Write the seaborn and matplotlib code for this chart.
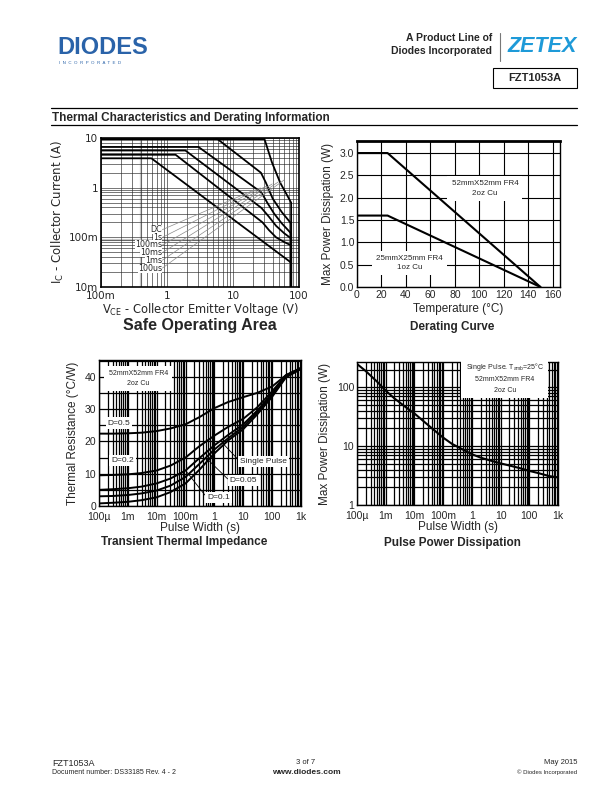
import matplotlib
matplotlib.use("Agg")
import matplotlib.pyplot as plt
import numpy as np
import pandas as pd
import seaborn as sns
from matplotlib.lines import Line2D
from matplotlib.patches import Rectangle
from matplotlib.ticker import LogLocator, MultipleLocator, NullFormatter

# ---- Safe operating area (Vce in V, Ic in A) ----
soa_labels = ["DC", "1s", "100ms", "10ms", "1ms", "100us"]
soa_vce = {
    "DC": [0.1, 0.58, 76, 76],
    "1s": [0.1, 1.35, 28, 35, 45, 60, 76, 76],
    "100ms": [0.1, 1.9, 27, 35, 45, 60, 76, 76],
    "10ms": [0.1, 3.0, 27, 33, 42, 55, 76, 76],
    "1ms": [0.1, 4.0, 26.5, 31.5, 40, 55, 76, 76],
    "100us": [0.1, 30, 39, 52, 76, 76],
}
soa_ic = {
    "DC": [3.9, 3.9, 0.031, 0.01],
    "1s": [4.6, 4.6, 0.2, 0.14, 0.1, 0.08, 0.069, 0.01],
    "100ms": [5.6, 5.6, 0.39, 0.26, 0.17, 0.12, 0.095, 0.01],
    "10ms": [6.6, 6.6, 0.8, 0.5, 0.3, 0.19, 0.12, 0.01],
    "1ms": [14, 14, 2.0, 1.26, 0.6, 0.32, 0.19, 0.01],
    "100us": [9.5, 9.5, 3.2, 1.25, 0.5, 0.01],
}
# where each label's leader line meets the curves
soa_leader_v = [21.0, 25.9, 31.9, 39.3, 48.4, 59.6]
soa_leader_i = [0.90, 0.99, 1.08, 1.19, 1.30, 1.43]

# ---- Derating curve ----
derate_temp = [0, 25, 150]
derate_52mm = [3.0, 3.0, 0.0]
derate_25mm = [1.6, 1.6, 0.0]

# ---- Transient thermal impedance ----
pulse_width = [1e-4, 3e-4, 1e-3, 3e-3, 1e-2, 3e-2, 0.1, 0.3, 1, 3, 10, 30, 100, 300, 1000]
zth_d05 = [22.4, 22.4, 22.5, 22.7, 23.2, 24.0, 25.3, 27.5, 30.3, 32.2, 33.7, 35.0, 37.0, 40.5, 42.6]
zth_d02 = [9.5, 9.6, 9.8, 10.2, 11.0, 12.5, 15.0, 18.5, 21.8, 24.5, 27.0, 30.5, 35.5, 40.5, 42.8]
zth_d01 = [5.0, 5.2, 5.5, 6.0, 7.0, 8.5, 11.0, 14.8, 18.8, 22.0, 25.3, 29.5, 34.8, 40.3, 42.7]
zth_d005 = [3.0, 3.1, 3.4, 3.9, 4.8, 6.3, 9.0, 13.0, 17.5, 21.0, 24.5, 29.0, 34.3, 40.0, 42.6]
zth_single = [0.8, 1.0, 1.3, 1.8, 2.7, 4.3, 7.0, 11.2, 16.3, 20.3, 23.8, 28.3, 33.8, 39.8, 42.4]

# ---- Pulse power dissipation ----
ppd_width = [1e-4, 2e-4, 5e-4, 1e-3, 2e-3, 5e-3, 1e-2, 2e-2, 5e-2, 0.1, 0.2, 0.5,
             1, 2, 5, 10, 20, 50, 100, 200, 500, 1000]
ppd_power = [250, 190, 125, 88, 65, 46, 36, 27, 18.5, 14, 11, 8.7,
             7.3, 6.4, 5.6, 5.1, 4.7, 4.2, 3.8, 3.5, 3.1, 2.95]

time_ticks = [1e-4, 1e-3, 1e-2, 1e-1, 1, 10, 100, 1000]
time_labels = ["100µ", "1m", "10m", "100m", "1", "10", "100", "1k"]

W, H = 612, 792


def rect(left, top, right, bottom):
    return [left / W, 1 - bottom / H, (right - left) / W, (bottom - top) / H]


def fx(px):
    return px / W


def fy(py):
    return 1 - py / H


def draw_line(ax, x, y, lw=1.4):
    sns.lineplot(x=x, y=y, ax=ax, color="black", lw=lw, sort=False,
                 estimator=None, legend=False)


def style_spines(ax, lw=1.0):
    for s in ax.spines.values():
        s.set_color("black")
        s.set_linewidth(lw)
        s.set_visible(True)


sns.set_theme(style="white")
plt.rcParams["font.family"] = ["Liberation Sans", "DejaVu Sans"]

fig = plt.figure(figsize=(W / 100, H / 100), dpi=100)

# ---- header ----
fig.text(fx(57), fy(48), "DIODES", color="#2a63a9", fontsize=17, fontweight="heavy",
         va="center", ha="left")
fig.text(fx(59), fy(63), "I  N  C  O  R  P  O  R  A  T  E  D", color="#2a63a9",
         fontsize=3.2, va="center", ha="left")
fig.text(fx(492), fy(38), "A Product Line of", fontsize=7.5, fontweight="bold",
         ha="right", va="center")
fig.text(fx(492), fy(51), "Diodes Incorporated", fontsize=7.5, fontweight="bold",
         ha="right", va="center")
fig.add_artist(Line2D([fx(500), fx(500)], [fy(33), fy(61)], color="#777777", lw=0.8))
fig.text(fx(507), fy(46), "ZETEX", color="#1e9ad8", fontsize=15.5, fontweight="heavy",
         style="italic", ha="left", va="center")
fig.add_artist(Rectangle((fx(493), fy(88)), fx(84), 20 / H, fill=False,
                         edgecolor="black", lw=0.8))
fig.text(fx(535), fy(78), "FZT1053A", fontsize=8, fontweight="bold", ha="center",
         va="center")

fig.add_artist(Line2D([fx(51), fx(577)], [fy(108), fy(108)], color="black", lw=0.9))
fig.add_artist(Line2D([fx(51), fx(577)], [fy(125), fy(125)], color="black", lw=0.9))
fig.text(fx(52), fy(117.5), "Thermal Characteristics and Derating Information",
         fontsize=8.5, fontweight="bold", ha="left", va="center")

# ---- footer ----
fig.text(fx(52), fy(763), "FZT1053A", fontsize=6.5, ha="left", va="center")
fig.text(fx(52), fy(773), "Document number: DS33185 Rev. 4 - 2", fontsize=5,
         ha="left", va="center")
fig.text(fx(306), fy(763), "3 of 7", fontsize=5.5, ha="center", va="center")
fig.text(fx(306), fy(772), "www.diodes.com", fontsize=6, fontweight="bold",
         ha="center", va="center")
fig.text(fx(577), fy(763), "May 2015", fontsize=5.5, ha="right", va="center")
fig.text(fx(577), fy(772), "© Diodes Incorporated", fontsize=4.3, ha="right",
         va="center")

# ---- Safe Operating Area ----
ax = fig.add_axes(rect(101, 138, 299, 287))
ax.set_xscale("log")
ax.set_yscale("log")
ax.axvline(0.4, color="#c8c8c8", lw=1.6, zorder=0.5)
ax.axhline(0.088, color="#c8c8c8", lw=1.6, zorder=0.5)
for name in soa_labels:
    draw_line(ax, soa_vce[name], soa_ic[name], lw=1.3)
ax.set_xlim(0.1, 100)
ax.set_ylim(0.01, 10)
ax.xaxis.set_minor_locator(LogLocator(base=10, subs=np.arange(2, 10)))
ax.yaxis.set_minor_locator(LogLocator(base=10, subs=np.arange(2, 10)))
ax.xaxis.set_minor_formatter(NullFormatter())
ax.yaxis.set_minor_formatter(NullFormatter())
ax.set_xticks([0.1, 1, 10, 100], ["100m", "1", "10", "100"])
ax.set_yticks([0.01, 0.1, 1, 10], ["10m", "100m", "1", "10"])
ax.grid(True, which="both", color="#2a2a2a", lw=0.45)
ax.tick_params(which="both", length=0, labelsize=7.5, pad=2)
ax.tick_params(axis="x", pad=3)
for lbl in ax.get_xticklabels() + ax.get_yticklabels():
    lbl.set_family("DejaVu Sans")
ax.set_xlabel(r"V$_\mathregular{CE}$ - Collector Emitter Voltage (V)", fontsize=8.3,
              family="DejaVu Sans", labelpad=0)
ax.set_ylabel(r"I$_\mathregular{C}$ - Collector Current (A)", fontsize=8.5,
              family="DejaVu Sans", labelpad=2)
label_y = [0.385, 0.333, 0.282, 0.231, 0.180, 0.127]
for name, ly, ev, ei in zip(soa_labels, label_y, soa_leader_v, soa_leader_i):
    ax.annotate(name, xy=(ev, ei), xycoords="data", xytext=(0.31, ly),
                textcoords="axes fraction", ha="right", va="center", fontsize=5.8,
                family="DejaVu Sans",
                bbox=dict(facecolor="white", edgecolor="none", pad=0),
                arrowprops=dict(arrowstyle="-", color="#8a8a8a", lw=0.5,
                                shrinkA=0, shrinkB=0, relpos=(1, 0.5)))
style_spines(ax, 1.2)
fig.text(fx(200), fy(326), "Safe Operating Area", fontsize=11.5, fontweight="bold",
         ha="center", va="center")

# ---- Derating Curve ----
ax = fig.add_axes(rect(357, 141, 560, 287))
draw_line(ax, derate_temp, derate_52mm, lw=1.5)
draw_line(ax, derate_temp, derate_25mm, lw=1.5)
ax.set_xlim(0, 166)
ax.set_ylim(0, 3.27)
ax.set_xticks(range(0, 161, 20))
ax.set_yticks(np.arange(0, 3.01, 0.5))
ax.set_yticklabels([f"{v:.1f}" for v in np.arange(0, 3.01, 0.5)])
ax.grid(True, color="black", lw=0.8)
ax.set_axisbelow(True)
ax.tick_params(length=0, labelsize=7.5, pad=2)
ax.set_xlabel("Temperature (°C)", fontsize=8.5, labelpad=2)
ax.set_ylabel("Max Power Dissipation (W)", fontsize=8.5, labelpad=4)
ax.text(0.63, 0.675, "52mmX52mm FR4\n2oz Cu", transform=ax.transAxes, ha="center",
        va="center", fontsize=5.8, linespacing=1.5,
        bbox=dict(facecolor="white", edgecolor="none", pad=3))
ax.text(0.26, 0.164, "25mmX25mm FR4\n1oz Cu", transform=ax.transAxes, ha="center",
        va="center", fontsize=5.8, linespacing=1.5,
        bbox=dict(facecolor="white", edgecolor="none", pad=3))
style_spines(ax, 1.0)
ax.spines["top"].set_linewidth(2)
fig.text(fx(452), fy(327), "Derating Curve", fontsize=8.5, fontweight="bold",
         ha="center", va="center")

# ---- Transient Thermal Impedance ----
ax = fig.add_axes(rect(99, 360, 301, 506))
ax.set_xscale("log")
zth = pd.DataFrame({
    "t": pulse_width * 5,
    "r": zth_d05 + zth_d02 + zth_d01 + zth_d005 + zth_single,
    "curve": sum([[c] * len(pulse_width) for c in
                  ["D=0.5", "D=0.2", "D=0.1", "D=0.05", "Single Pulse"]], []),
})
sns.lineplot(data=zth, x="t", y="r", units="curve", estimator=None, color="black",
             lw=1.4, ax=ax, legend=False)
ax.set_xlim(1e-4, 1e3)
ax.set_ylim(0, 45.2)
ax.xaxis.set_minor_locator(LogLocator(base=10, subs=np.arange(2, 10)))
ax.xaxis.set_minor_formatter(NullFormatter())
ax.set_xticks(time_ticks, time_labels)
ax.set_yticks([0, 10, 20, 30, 40])
ax.yaxis.set_minor_locator(MultipleLocator(5))
ax.grid(True, which="both", color="black", lw=0.9)
ax.tick_params(which="both", length=0, labelsize=7.5, pad=2)
ax.tick_params(axis="x", pad=4)
ax.set_xlabel("Pulse Width (s)", fontsize=8.5, labelpad=0)
ax.set_ylabel("Thermal Resistance (°C/W)", fontsize=8.5, labelpad=4)
box = dict(facecolor="white", edgecolor="none", pad=1.5)
ax.text(0.194, 0.874, "52mmX52mm FR4\n2oz Cu", transform=ax.transAxes, ha="center",
        va="center", fontsize=5, linespacing=1.6,
        bbox=dict(facecolor="white", edgecolor="none", pad=3))
ax.text(0.099, 0.568, "D=0.5", transform=ax.transAxes, ha="center", va="center",
        fontsize=6, bbox=box)
ax.text(0.116, 0.31, "D=0.2", transform=ax.transAxes, ha="center", va="center",
        fontsize=6, bbox=box)
lead = dict(arrowstyle="-", color="black", lw=0.6, shrinkA=0, shrinkB=0)
ax.annotate("Single Pulse", xy=(2.0, 19.3), xytext=(0.815, 0.303),
            textcoords="axes fraction", ha="center", va="center", fontsize=6,
            bbox=box, arrowprops=dict(lead, relpos=(0, 0.5)))
ax.annotate("D=0.05", xy=(0.5, 15.0), xytext=(0.715, 0.172),
            textcoords="axes fraction", ha="center", va="center", fontsize=6,
            bbox=box, arrowprops=dict(lead, relpos=(0, 0.5)))
ax.annotate("D=0.1", xy=(0.1, 11.0), xytext=(0.591, 0.057),
            textcoords="axes fraction", ha="center", va="center", fontsize=6,
            bbox=box, arrowprops=dict(lead, relpos=(0, 0.5)))
style_spines(ax, 1.0)
fig.text(fx(184), fy(542), "Transient Thermal Impedance", fontsize=8.5,
         fontweight="bold", ha="center", va="center")

# ---- Pulse Power Dissipation ----
ax = fig.add_axes(rect(357, 362, 558, 505))
ax.set_xscale("log")
ax.set_yscale("log")
draw_line(ax, ppd_width, ppd_power, lw=1.5)
ax.set_xlim(1e-4, 1e3)
ax.set_ylim(1, 270)
ax.xaxis.set_minor_locator(LogLocator(base=10, subs=np.arange(2, 10)))
ax.yaxis.set_minor_locator(LogLocator(base=10, subs=np.arange(2, 10)))
ax.xaxis.set_minor_formatter(NullFormatter())
ax.yaxis.set_minor_formatter(NullFormatter())
ax.set_xticks(time_ticks, time_labels)
ax.set_yticks([1, 10, 100], ["1", "10", "100"])
ax.grid(True, which="both", color="black", lw=0.9)
ax.tick_params(which="both", length=0, labelsize=7.5, pad=2)
ax.tick_params(axis="x", pad=4)
ax.set_xlabel("Pulse Width (s)", fontsize=8.5, labelpad=0)
ax.set_ylabel("Max Power Dissipation (W)", fontsize=8.5, labelpad=4)
ax.text(0.735, 0.895, "Single Pulse. T$_\\mathregular{amb}$=25°C\n52mmX52mm FR4\n2oz Cu",
        transform=ax.transAxes, ha="center", va="center", fontsize=5, linespacing=1.7,
        bbox=dict(facecolor="white", edgecolor="none", pad=3))
style_spines(ax, 1.0)
fig.text(fx(452), fy(543), "Pulse Power Dissipation", fontsize=8.5, fontweight="bold",
         ha="center", va="center")

fig.savefig("out.png", dpi=100)
